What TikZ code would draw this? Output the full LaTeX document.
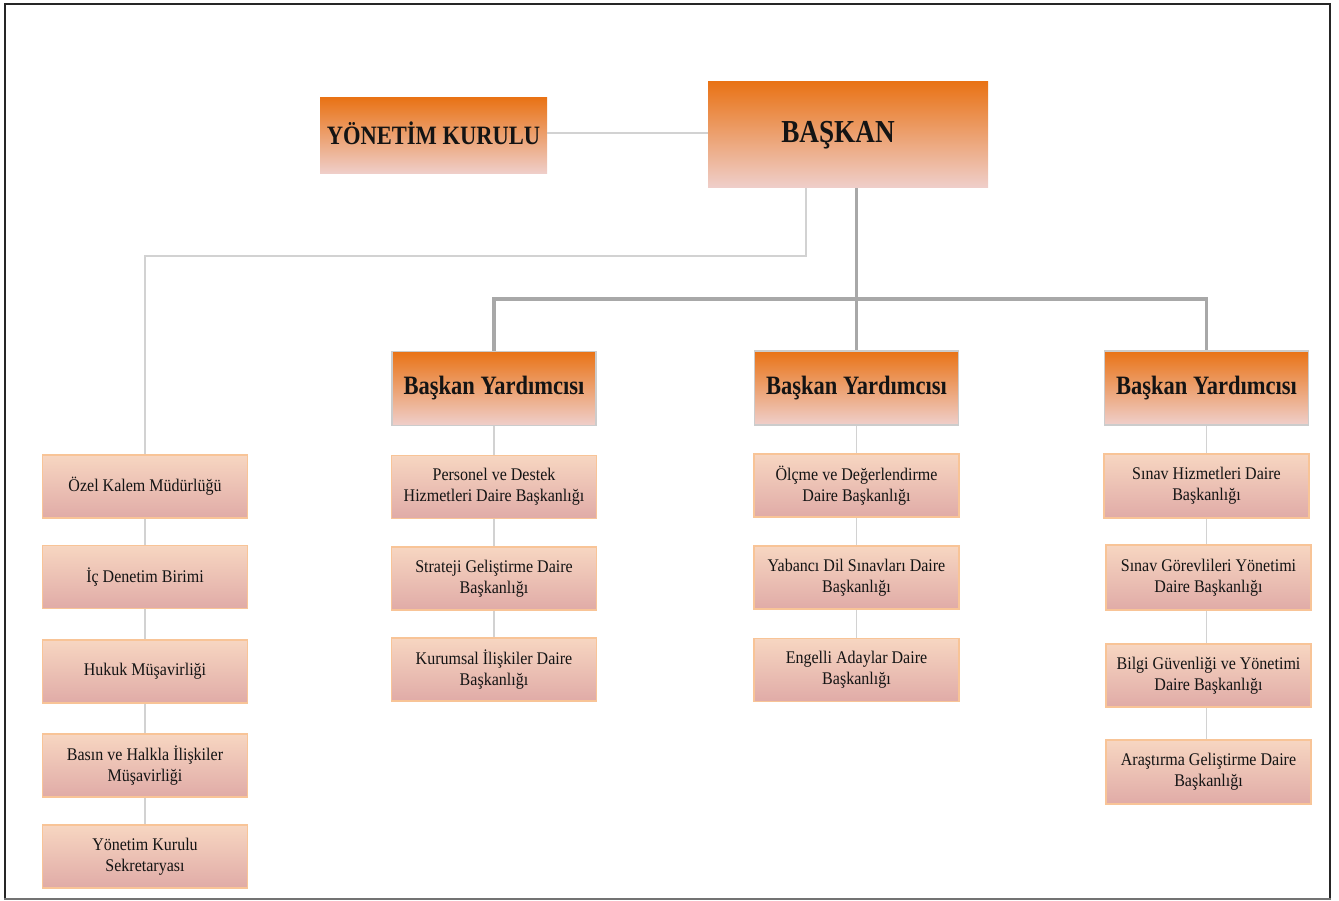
\documentclass[tikz,border=0pt]{standalone}
\usepackage{fontspec}
\setmainfont{Liberation Serif}
\newfontfamily\rgf[FakeStretch=0.9]{Liberation Serif}
\newfontfamily\bdf[FakeStretch=0.85]{Liberation Serif}
\definecolor{orTop}{HTML}{E97316}
\definecolor{orMid}{HTML}{E4A287}
\definecolor{orBot}{HTML}{EFCFCB}
\definecolor{pkTop}{HTML}{F7D6C1}
\definecolor{pkMid}{HTML}{E6B8B0}
\definecolor{pkBot}{HTML}{E0ABA7}
\definecolor{pkEdge}{HTML}{F8C497}
\definecolor{thinLn}{HTML}{D2D2D2}
\definecolor{thickLn}{HTML}{A8A8A8}
\definecolor{txt}{HTML}{141414}
\tikzset{
  bigbox/.style={inner sep=0pt, top color=orTop, middle color=orMid, bottom color=orBot, text=txt, align=center},
  vpbox/.style={bigbox, draw=black!20, line width=1.2pt, minimum width=204pt, minimum height=74pt,
     font=\bdf\bfseries\fontsize{26.5}{30}\selectfont},
  unitbox/.style={inner sep=0pt, draw=pkEdge, line width=1.8pt, top color=pkTop, middle color=pkMid, bottom color=pkBot,
     text=txt, align=center, minimum width=205pt, minimum height=63pt,
     font=\rgf\fontsize{17.8}{21}\selectfont},
  thinline/.style={draw=thinLn, line width=1.6pt},
  thickline/.style={draw=thickLn, line width=3.5pt}
}
\begin{document}
\begin{tikzpicture}[x=1pt, y=-1pt]
\useasboundingbox (0,0) rectangle (1339,901);
% frame
\draw[black!85, line width=2pt] (5,899) -- (5,4) -- (1330,4) -- (1330,899);
\draw[black!55, line width=1.5pt] (4,899) -- (1331,899);

% top boxes
\node[bigbox, minimum width=227pt, minimum height=76pt, font=\bdf\bfseries\fontsize{26.5}{30}\selectfont] (yk) at (433.5,136) {\raisebox{5pt}{YÖNETİM KURULU}};
\node[bigbox, minimum width=280pt, minimum height=106pt, font=\bdf\bfseries\fontsize{32}{36}\selectfont] (bk) at (848,135) {\hspace*{-20pt}\raisebox{5pt}{BAŞKAN}};

% vice presidents
\node[vpbox] (v1) at (494,388.5) {\raisebox{-3pt}{Başkan Yardımcısı}};
\node[vpbox] (v2) at (856.5,388) {\raisebox{-3pt}{Başkan Yardımcısı}};
\node[vpbox] (v3) at (1206.5,388) {\raisebox{-3pt}{Başkan Yardımcısı}};

% left column
\node[unitbox] (l1) at (145,486.5) {Özel Kalem Müdürlüğü};
\node[unitbox] (l2) at (145,577) {İç Denetim Birimi};
\node[unitbox] (l3) at (145,671.5) {Hukuk Müşavirliği};
\node[unitbox] (l4) at (145,765.5) {Basın ve Halkla İlişkiler\\Müşavirliği};
\node[unitbox] (l5) at (145,856.5) {Yönetim Kurulu\\Sekretaryası};

% column a
\node[unitbox] (a1) at (494,487) {Personel ve Destek\\Hizmetleri Daire Başkanlığı};
\node[unitbox] (a2) at (494,578.5) {Strateji Geliştirme Daire\\Başkanlığı};
\node[unitbox] (a3) at (494,669.5) {Kurumsal İlişkiler Daire\\Başkanlığı};

% column b
\node[unitbox] (b1) at (856.5,485.5) {Ölçme ve Değerlendirme\\Daire Başkanlığı};
\node[unitbox] (b2) at (856.5,577.5) {Yabancı Dil Sınavları Daire\\Başkanlığı};
\node[unitbox] (b3) at (856.5,670) {Engelli Adaylar Daire\\Başkanlığı};

% column c
\node[unitbox, minimum height=64pt] (c1) at (1206.5,486) {Sınav Hizmetleri Daire\\Başkanlığı};
\node[unitbox, minimum height=65pt] (c2) at (1208.5,577.5) {Sınav Görevlileri Yönetimi\\Daire Başkanlığı};
\node[unitbox] (c3) at (1208.5,675.5) {Bilgi Güvenliği ve Yönetimi\\Daire Başkanlığı};
\node[unitbox, minimum height=64pt] (c4) at (1208.5,772) {Araştırma Geliştirme Daire\\Başkanlığı};

% connectors
\coordinate (j0) at (600,133);
\coordinate (j1) at (806,256);
\coordinate (bar) at (855,299);
\draw[thinline] (yk.east |- j0) -- (bk.west |- j0);
\draw[thinline] (bk.south -| j1) -- (j1) -| (l1.north);
\draw[thinline] (l1.south) -- (l2.north);
\draw[thinline] (l2.south) -- (l3.north);
\draw[thinline] (l3.south) -- (l4.north);
\draw[thinline] (l4.south) -- (l5.north);
\draw[thinline] (v1.south) -- (a1.north);
\draw[thinline] (a1.south) -- (a2.north);
\draw[thinline] (a2.south) -- (a3.north);
\draw[thinline] (v2.south) -- (b1.north);
\draw[thinline] (b1.south) -- (b2.north);
\draw[thinline] (b2.south) -- (b3.north);
\draw[thinline] (v3.south) -- (c1.north);
\draw[thinline] (c1.south) -- (c1.south |- c2.north);
\draw[thinline] (c2.south -| c1.south) -- (c1.south |- c3.north);
\draw[thinline] (c3.south -| c1.south) -- (c1.south |- c4.north);
\draw[thickline] (bk.south -| v2.north) -- (v2.north);
\draw[thickline] (v1.north) |- (bar) -| (v3.north);
\end{tikzpicture}
\end{document}
